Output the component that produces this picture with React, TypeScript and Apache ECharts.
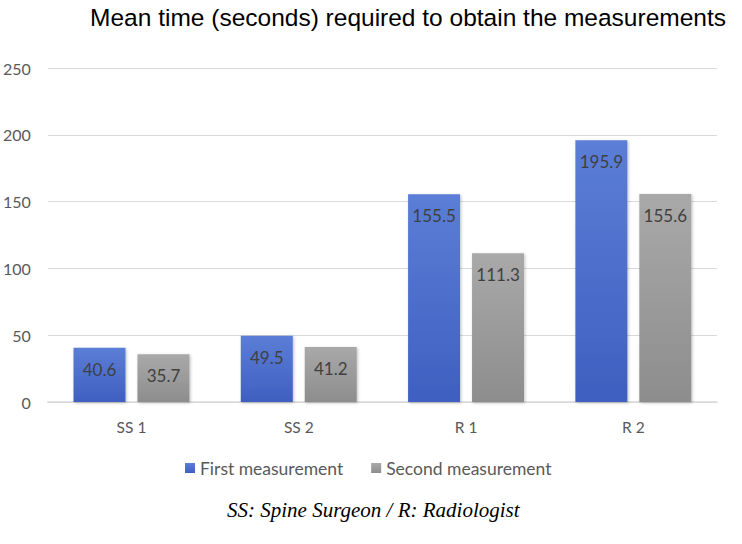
import React, { useEffect, useRef } from "react";
import * as echarts from "echarts";

const categories = ["SS 1", "SS 2", "R 1", "R 2"];
const firstMeasurement = [40.6, 49.5, 155.5, 195.9];
const secondMeasurement = [35.7, 41.2, 111.3, 155.6];
const seriesNames = ["First measurement", "Second measurement"];
const titleText = "Mean time (seconds) required to obtain the measurements";
const footnoteText = "SS: Spine Surgeon / R: Radiologist";

export default function App() {
  const ref = useRef<HTMLDivElement>(null);
  useEffect(() => {
    if (!ref.current) return;
    const chart = echarts.init(ref.current, null, { renderer: "svg" });
    const uiFont = "Lato, 'Open Sans', sans-serif";
    const blueGrad = new echarts.graphic.LinearGradient(0, 0, 0, 1, [
      { offset: 0, color: "#5b7ed6" },
      { offset: 1, color: "#3f5fc0" },
    ]);
    const grayGrad = new echarts.graphic.LinearGradient(0, 0, 0, 1, [
      { offset: 0, color: "#a9a9a9" },
      { offset: 1, color: "#8d8d8d" },
    ]);
    const label = {
      show: true,
      position: "insideTop" as const,
      distance: 13,
      fontFamily: uiFont,
      fontSize: 17,
      color: "#404040",
    };
    chart.setOption({
      animation: false,
      backgroundColor: "#ffffff",
      title: [
        {
          text: titleText,
          right: 11,
          top: 0,
          textStyle: {
            fontFamily: "'Liberation Sans', Arial, sans-serif",
            fontSize: 24.5,
            fontWeight: "normal",
            color: "#000000",
          },
        },
        {
          text: footnoteText,
          left: 222,
          top: 494,
          textStyle: {
            fontFamily: "'Liberation Serif', 'Times New Roman', serif",
            fontStyle: "italic",
            fontSize: 21,
            fontWeight: "normal",
            color: "#000000",
          },
        },
      ],
      legend: {
        data: seriesNames,
        top: 454,
        left: 180,
        itemWidth: 10,
        itemHeight: 10,
        itemGap: 28,
        icon: "rect",
        textStyle: { fontFamily: uiFont, fontSize: 17.5, color: "#595959" },
      },
      grid: { left: 46, right: 25, top: 68, bottom: 142 },
      xAxis: {
        type: "category",
        data: categories,
        axisLine: { lineStyle: { color: "#d9d9d9", width: 1.5 } },
        axisTick: { show: false },
        axisLabel: { fontFamily: uiFont, fontSize: 15.5, color: "#595959", margin: 17 },
      },
      yAxis: {
        type: "value",
        min: 0,
        max: 250,
        interval: 50,
        axisLine: { show: false },
        axisTick: { show: false },
        axisLabel: { fontFamily: uiFont, fontSize: 16, color: "#595959", margin: 17 },
        splitLine: { lineStyle: { color: "#d9d9d9", width: 1.2 } },
      },
      series: [
        {
          name: seriesNames[0],
          type: "bar",
          data: firstMeasurement,
          barWidth: 52,
          barGap: "23%",
          itemStyle: {
            color: blueGrad,
            shadowColor: "rgba(0,0,0,0.25)",
            shadowBlur: 3,
            shadowOffsetX: 1,
            shadowOffsetY: 1,
          },
          label,
        },
        {
          name: seriesNames[1],
          type: "bar",
          data: secondMeasurement,
          barWidth: 52,
          itemStyle: {
            color: grayGrad,
            shadowColor: "rgba(0,0,0,0.25)",
            shadowBlur: 3,
            shadowOffsetX: 1,
            shadowOffsetY: 1,
          },
          label,
        },
      ],
    });
    return () => chart.dispose();
  }, []);
  return (
    <div
      ref={ref}
      style={{ position: "absolute", left: 0, top: 0, width: 742, height: 544 }}
    />
  );
}
